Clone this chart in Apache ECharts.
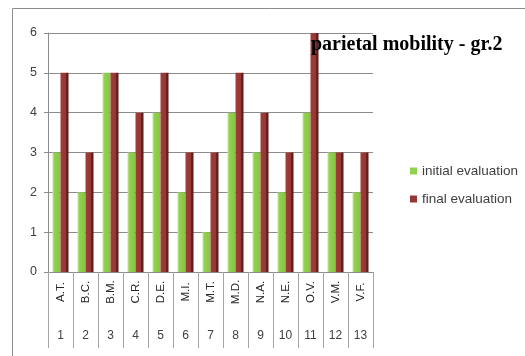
<!DOCTYPE html>
<html>
<head>
<meta charset="utf-8">
<script src="https://cdn.jsdelivr.net/npm/echarts@6/dist/echarts.min.js"></script>
<style>
  html, body { margin: 0; padding: 0; background: #fff; }
  #chart { width: 525px; height: 356px; }
</style>
</head>
<body>
<div id="chart"></div>
<script>
// Subjects (initials) and their order numbers
const names = ['A.T.', 'B.C.', 'B.M.', 'C.R.', 'D.E.', 'M.I.', 'M.T.', 'M.D.', 'N.A.', 'N.E.', 'O.V.', 'V.M.', 'V.F.'];
const numbers = ['1', '2', '3', '4', '5', '6', '7', '8', '9', '10', '11', '12', '13'];

// Scores at the two evaluations
const initialEval = [3, 2, 5, 3, 4, 2, 1, 4, 3, 2, 4, 3, 2];
const finalEval   = [5, 3, 5, 4, 5, 3, 3, 5, 4, 3, 6, 3, 3];

const seriesNames = ['initial evaluation', 'final evaluation'];
const chartTitle = 'parietal mobility - gr.2';

const font = '"Liberation Sans", Arial, sans-serif';

// Shaded fills give the columns a slight 3D look
const greenFill = new echarts.graphic.LinearGradient(0, 0, 1, 0, [
  { offset: 0, color: '#c3e79c' },
  { offset: 0.25, color: '#92d050' },
  { offset: 1, color: '#86c544' }
]);
const redFill = new echarts.graphic.LinearGradient(0, 0, 1, 0, [
  { offset: 0, color: '#a13d3a' },
  { offset: 0.65, color: '#953735' },
  { offset: 0.7, color: '#6a2321' },
  { offset: 1, color: '#5a1b19' }
]);

const chart = echarts.init(document.getElementById('chart'), null, { renderer: 'canvas' });

chart.setOption({
  animation: false,
  backgroundColor: '#ffffff',
  title: {
    text: chartTitle,
    left: 306,
    top: 30,
    textStyle: {
      fontFamily: '"Liberation Serif", "Times New Roman", serif',
      fontWeight: 'bold',
      fontSize: 20,
      color: '#000'
    }
  },
  legend: {
    orient: 'vertical',
    left: 405,
    top: 159,
    itemWidth: 7,
    itemHeight: 7,
    itemGap: 14,
    icon: 'rect',
    data: [
      { name: seriesNames[0], itemStyle: { color: '#92d050' } },
      { name: seriesNames[1], itemStyle: { color: '#953735' } }
    ],
    textStyle: { fontFamily: font, fontSize: 13.5, color: '#404040' }
  },
  graphic: [
    {
      type: 'rect',
      shape: { x: 12.5, y: 8.5, width: 600, height: 400 },
      style: { fill: null, stroke: '#8c8c8c', lineWidth: 1 },
      silent: true
    }
  ],
  grid: { left: 48, top: 33, width: 325, height: 239 },
  xAxis: [
    {
      type: 'category',
      data: names,
      position: 'bottom',
      axisLine: { show: true, lineStyle: { color: '#8c8c8c' } },
      axisTick: { show: true, length: 76, lineStyle: { color: '#a6a6a6' } },
      axisLabel: {
        rotate: 90,
        align: 'center',
        verticalAlign: 'middle',
        margin: 20,
        fontFamily: font,
        fontSize: 11.5,
        color: '#262626',
        interval: 0
      },
      splitLine: { show: false }
    },
    {
      type: 'category',
      data: numbers,
      position: 'bottom',
      axisLine: { show: false },
      axisTick: { show: false },
      axisLabel: {
        margin: 58,
        fontFamily: font,
        fontSize: 12,
        color: '#404040',
        interval: 0
      },
      splitLine: { show: false }
    }
  ],
  yAxis: {
    type: 'value',
    min: 0,
    max: 6,
    interval: 1,
    axisLine: { show: true, lineStyle: { color: '#8c8c8c' } },
    axisTick: { show: true, length: 4, lineStyle: { color: '#8c8c8c' } },
    axisLabel: {
      margin: 11,
      fontFamily: font,
      fontSize: 12.5,
      color: '#404040',
      padding: [6, 0, 0, 0]
    },
    splitLine: { show: true, lineStyle: { color: '#8c8c8c', width: 1 } }
  },
  series: [
    {
      name: seriesNames[0],
      type: 'bar',
      xAxisIndex: 0,
      data: initialEval,
      barWidth: 8,
      barGap: '0%',
      itemStyle: { color: greenFill }
    },
    {
      name: seriesNames[1],
      type: 'bar',
      xAxisIndex: 0,
      data: finalEval,
      barWidth: 8,
      barGap: '0%',
      itemStyle: { color: redFill }
    }
  ]
});
</script>
</body>
</html>
